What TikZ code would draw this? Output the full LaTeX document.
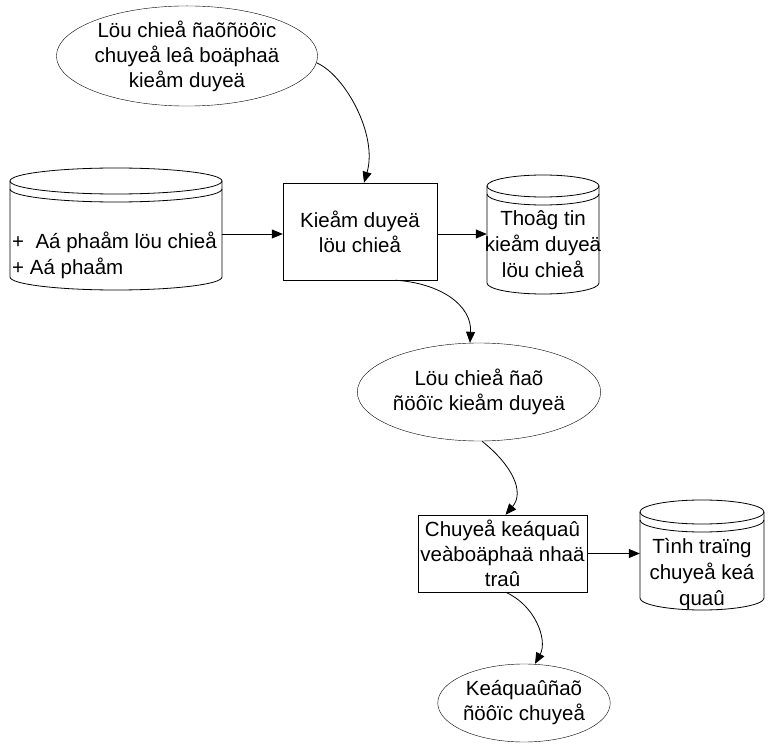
\documentclass[tikz,border=0pt]{standalone}
\usepackage{fontspec}
\setmainfont{Liberation Sans}
\usetikzlibrary{shapes.geometric,arrows.meta}

\tikzset{
  oval/.style={draw, ellipse, inner sep=0pt, align=center, font=\fontsize{20.5}{25}\selectfont},
  procbox/.style={draw, rectangle, inner sep=0pt, align=center, font=\fontsize{20.5}{25}\selectfont},
  store/.style={rectangle, inner sep=0pt},
  label/.style={inner sep=0pt, align=center, font=\fontsize{20.5}{26}\selectfont},
  flow/.style={-{Triangle[length=11pt,width=9pt]}, line width=0.8pt},
  outline/.style={line width=0.8pt}
}

% data store: top ellipse, a second front arc under it, two sides and a bottom arc
% #1 centre x, #2 half width, #3 top ellipse centre y, #4 bottom arc centre y, #5 vertical radius
\newcommand{\datastore}[5]{%
  \draw[outline] (#1,#3) ellipse [x radius=#2pt, y radius=#5pt];
  \draw[outline] (#1-#2,#3+8) arc [start angle=180, end angle=360, x radius=#2pt, y radius=#5pt];
  \draw[outline] (#1-#2,#3) -- (#1-#2,#4)
     arc [start angle=180, end angle=360, x radius=#2pt, y radius=#5pt]
     -- (#1+#2,#3);
}

\begin{document}
\begin{tikzpicture}[x=1pt,y=-1pt]
\useasboundingbox (0,0) rectangle (769,751);

% nodes
\node[oval, minimum width=236pt, minimum height=90pt] (sent) at (187,56)
  {Löu chieå ñaõñöôïc\\chuyeå leâ boäphaä\\kieåm duyeä};

\datastore{116}{106}{181}{277}{13}
\node[store, minimum width=212pt, minimum height=110pt] (src) at (116,234) {};
\node[label, align=left, anchor=west] (srctext) at (12,255)
  {+\ \ Aá phaåm löu chieå\\+ Aá phaåm};

\node[procbox, minimum width=154pt, minimum height=97pt] (check) at (360,231.5)
  {Kieåm duyeä\\löu chieå};

\datastore{543}{56}{186}{283}{11}
\node[store, minimum width=112pt, minimum height=118pt] (info) at (543,234) {};
\node[label] (infotext) at (543,244) {Thoâg tin\\kieåm duyeä\\löu chieå};

\node[oval, minimum width=200pt, minimum height=98pt] (checked) at (479,392)
  {Löu chieå ñaõ\\ñöôïc kieåm duyeä};

\node[procbox, minimum width=169pt, minimum height=77pt] (send) at (502.5,553.5)
  {Chuyeå keáquaû\\veàboäphaä nhaä\\traû};

\datastore{702}{62}{512}{598}{12}
\node[store, minimum width=124pt, minimum height=110pt] (state) at (702,553) {};
\node[label] (statetext) at (702,574) {Tình traïng\\chuyeå keá\\quaû};

\node[oval, minimum width=148pt, minimum height=78pt] (done) at (524,703)
  {Keáquaûñaõ\\ñöôïc chuyeå};

% connectors
\draw[flow] (sent.-3) .. controls (345,75) and (378,135) .. ([xshift=4pt]check.north);
\draw[flow] (src.east) -- (src.east -| check.west);
\draw[flow] (check.east |- info.west) -- (info.west);
\draw[flow] ([xshift=35pt]check.south) .. controls (440,283) and (472,305) .. ([xshift=-9pt]checked.north);
\draw[flow] ([xshift=3pt]checked.south) .. controls (512,465) and (525,492) .. ([xshift=3pt]send.north);
\draw[flow] ([xshift=3pt]send.south) .. controls (535,605) and (548,640) .. ([xshift=11pt]done.north);
\draw[flow] (send.east) -- (send.east -| state.west);
\end{tikzpicture}
\end{document}
